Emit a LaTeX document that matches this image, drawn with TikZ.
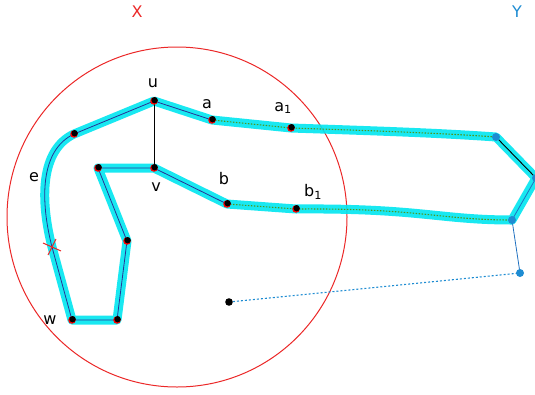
\documentclass[tikz,border=0pt]{standalone}
\usepackage{fontspec}
\setmainfont{DejaVu Sans}
\usetikzlibrary{positioning}
\definecolor{xred}{RGB}{235,40,40}
\definecolor{yblue}{RGB}{40,120,200}
\definecolor{hlcyan}{RGB}{0,230,240}
\definecolor{navy}{RGB}{40,50,150}
\definecolor{dotgreen}{RGB}{80,150,30}
\definecolor{ptblue}{RGB}{30,140,210}
\tikzset{
  hl/.style={hlcyan, line width=9pt, line cap=round, line join=round, opacity=0.9},
  edge/.style={navy, line width=0.8pt},
  dotg/.style={dotgreen, line width=1.1pt, dash pattern=on 1.5pt off 1.5pt},
  lbl/.style={font=\fontsize{16}{18}\selectfont, inner sep=0pt}
}
\newcommand{\rbdot}[1]{%
  \fill[red] (#1) circle (3.8);
  \fill[black] ([shift={(0.6,-0.8)}]#1) circle (3.2);}
\newcommand{\bldot}[1]{\fill[ptblue] (#1) circle (4);}

\begin{document}
\begin{tikzpicture}[x=1pt, y=-1pt]
    \useasboundingbox (0,0) rectangle (535,394);
    % points
    \coordinate (u) at (154,101);
    \coordinate (v) at (154,168);
    \coordinate (a) at (212,120);
    \coordinate (a1) at (291,128);
    \coordinate (b) at (227,204);
    \coordinate (b1) at (296,209);
    \coordinate (p1) at (74,134);
    \coordinate (cr) at (52,247);
    \coordinate (w) at (72,320);
    \coordinate (p2) at (117,320);
    \coordinate (p3) at (127,241);
    \coordinate (p4) at (98,168);
    \coordinate (q1) at (496,137);
    \coordinate (q2) at (536,178);
    \coordinate (q3) at (512,220);
    \coordinate (q4) at (520,273);
    \coordinate (o) at (229,302);

    % circle X
    \draw[xred, line width=1pt] (177,217) circle (170);

    % highlight
    \draw[hl] (u) -- (a) -- (a1) .. controls (380,131) and (440,133) .. (q1) -- (q2) -- (q3)
        .. controls (440,220) and (420,208) .. (b1) -- (b) -- (v) -- (p4) -- (p3) -- (p2) -- (w) -- (cr)
        .. controls (40,200) and (40,150) .. (p1) -- cycle;

    % edges
    \draw[edge] (u) -- (a);
    \draw[edge] (v) -- (b);
    \draw[edge] (v) -- (p4) -- (p3) -- (p2) -- (w) -- (cr)
        .. controls (40,200) and (40,150) .. (p1) -- (u);
    \draw[black, line width=1pt] (u) -- (v);
    \draw[dotg] (a) -- (a1) .. controls (380,131) and (440,133) .. (q1);
    \draw[dotg] (b) -- (b1) .. controls (420,208) and (440,220) .. (q3);
    \draw[black, line width=0.9pt] (q1) -- (q2);
    \draw[ptblue!70!navy, line width=0.8pt] (q2) -- (q3) -- (q4);
    \draw[ptblue, line width=1.1pt, dash pattern=on 2pt off 2pt] (o) -- (q4);

    % cross on the loop
    \draw[xred, line width=1pt] ([shift={(-9,-4)}]cr) -- ([shift={(9,4)}]cr);
    \draw[xred, line width=1pt] ([shift={(-4,8)}]cr) -- ([shift={(4,-8)}]cr);

    % dots
    \foreach \p in {u,v,a,a1,b,b1,p1,w,p2,p3,p4} {\rbdot{\p}}
    \foreach \p in {q1,q2,q3,q4} {\bldot{\p}}
    \fill[black] (o) circle (3.8);

    % labels
    \node[lbl, xred] (lx) at (137,12) {X};
    \node[lbl, ptblue] (ly) at (517,12) {Y};
    \node[lbl] (lu) at (153,83) {u};
    \node[lbl] (lv) at (156,187) {v};
    \node[lbl] (la) at (207,104) {a};
    \node[lbl] (la1) at (283,108) {a\textsubscript{1}};
    \node[lbl] (lb) at (224,179) {b};
    \node[lbl] (lb1) at (313,192) {b\textsubscript{1}};
    \node[lbl] (le) at (34,177) {e};
    \node[lbl] (lw) at (50,320) {w};
\end{tikzpicture}
\end{document}
